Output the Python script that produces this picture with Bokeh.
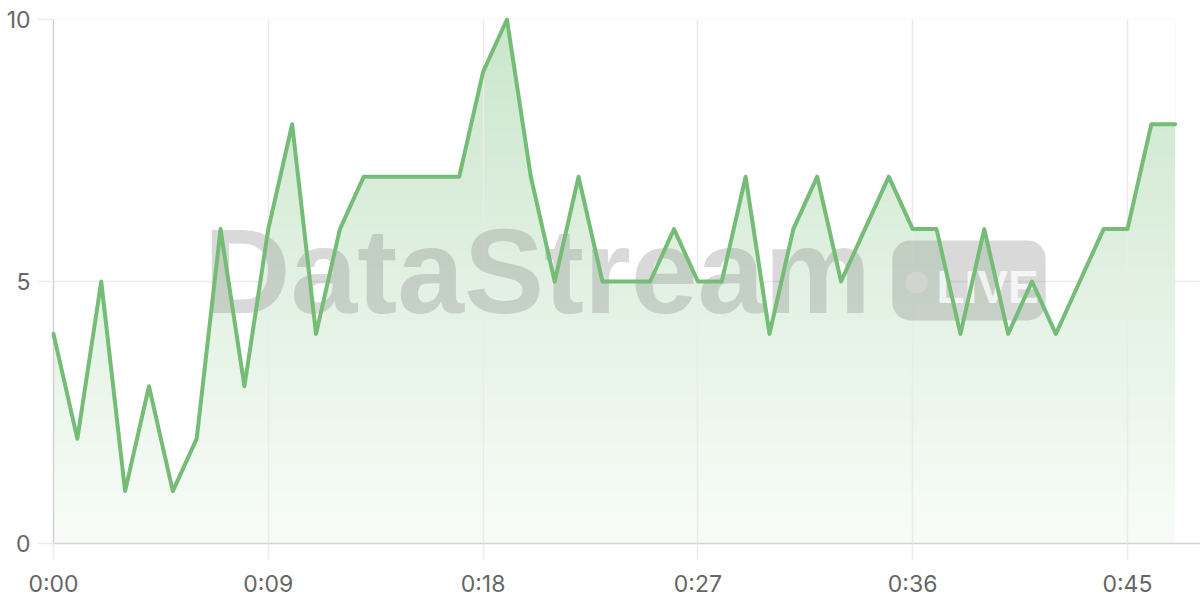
import numpy as np
from bokeh.plotting import figure
from bokeh.models import FixedTicker, CustomJSTickFormatter, Label
from bokeh.core.properties import value
from bokeh.embed import file_html
from bokeh.resources import INLINE

# ---- data ----
seconds = list(range(48))
values = [4, 2, 5, 1, 3, 1, 2, 6, 3, 6, 8, 4, 6, 7, 7, 7, 7, 7, 9, 10,
          7, 5, 7, 5, 5, 5, 6, 5, 5, 7, 4, 6, 7, 5, 6, 7, 6, 6, 4, 6,
          4, 5, 4, 5, 6, 6, 8, 8]
x_ticks = [0, 9, 18, 27, 36, 45]
y_ticks = [0, 5, 10]

LINE = "#75bd77"
GRID = "#ebebeb"
AXIS = "#d2d2d2"
LABEL = "#666666"
FONT = "Inter"

p = figure(width=1200, height=600, output_backend="svg", toolbar_location=None,
           x_range=(0, 48.06), y_range=(0, 10),
           min_border_top=19, min_border_right=0, min_border_left=53, min_border_bottom=57)
p.outline_line_color = None
p.background_fill_color = "white"

# gradient fill under the line (image + white mask above the line)
N = 256
alphas = np.linspace(0.05, 0.38, N)
g = np.array([0x75, 0xbd, 0x77], dtype=float)
rows = (255 * (1 - alphas[:, None]) + g[None, :] * alphas[:, None]).round().astype(np.uint32)
rgba = (255 << 24) | (rows[:, 2] << 16) | (rows[:, 1] << 8) | rows[:, 0]
img = rgba.reshape(N, 1).astype(np.uint32)
p.image_rgba(image=[img], x=seconds[0], y=0, dw=seconds[-1] - seconds[0], dh=10, level="image")
p.varea(x=seconds, y1=values, y2=[10] * len(values), fill_color="white", level="image")

# grids / axes
p.xaxis.ticker = FixedTicker(ticks=x_ticks)
p.yaxis.ticker = FixedTicker(ticks=y_ticks)
p.xaxis.formatter = CustomJSTickFormatter(code="""
const m = Math.floor(tick/60); const s = Math.round(tick%60);
return m + ':' + (s < 10 ? '0' + s : s);""")
p.xgrid.grid_line_color = GRID
p.ygrid.grid_line_color = GRID
p.xgrid.grid_line_width = 1.5
p.ygrid.grid_line_width = 1.5
for ax in (p.xaxis, p.yaxis):
    ax.axis_line_color = AXIS
    ax.axis_line_width = 1.5
    ax.major_tick_line_color = GRID
    ax.major_tick_line_width = 1.5
    ax.major_tick_out = 16
    ax.major_tick_in = 0
    ax.minor_tick_line_color = None
    ax.major_label_text_color = LABEL
    ax.major_label_text_font = FONT
    ax.major_label_text_font_size = "23px"
p.xaxis.major_label_standoff = 10
p.yaxis.major_label_standoff = 7

# watermark
p.text(x=[6.3], y=[5.2], text=["DataStream"], text_font=value("Liberation Sans"),
       text_font_style="bold", text_font_size="120px", text_color="#808080",
       text_alpha=0.3, text_align="left", text_baseline="middle")
badge = Label(x=35.15, y=5.02, x_units="data", y_units="data", text="LIVE",
              text_font="Liberation Sans", text_font_style="bold", text_font_size="46px",
              text_color="white", text_alpha=0.75, text_align="left", text_baseline="middle",
              background_fill_color="#808080", background_fill_alpha=0.3,
              border_radius=18, padding=(44, 7, 21, 7))
p.add_layout(badge)
p.scatter(x=[36.16], y=[4.98], size=22, marker="circle", fill_color="white",
          fill_alpha=0.6, line_color=None, level="annotation")

# line
p.line(x=seconds, y=values, line_color=LINE, line_width=4, line_join="round",
       line_cap="round", level="overlay")

open("out.html", "w").write(file_html(p, INLINE))
